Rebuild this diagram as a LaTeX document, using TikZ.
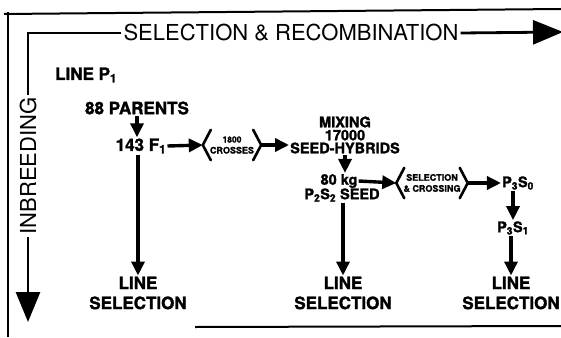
\documentclass[tikz,border=0pt]{standalone}
\usepackage{fontspec}
\setmainfont{TeX Gyre Heros}[BoldFeatures={FakeBold=1.6}]
\usetikzlibrary{arrows.meta}
\newcommand\lowidx[1]{\textsubscript{#1}}
\begin{document}
\begin{tikzpicture}[x=1pt,y=-1pt,
  head/.style={font=\fontsize{22}{22}\selectfont, inner sep=2pt},
  lbl/.style={font=\bfseries\fontsize{17}{20}\selectfont, inner sep=1pt, align=center},
  mid/.style={font=\bfseries\fontsize{14.5}{13}\selectfont, inner sep=1pt, align=center},
  tiny/.style={font=\bfseries\fontsize{9}{11}\selectfont, inner sep=1pt, align=center, minimum height=30pt},
  arr/.style={line width=3.4pt, -{Triangle[length=14pt,width=13pt]}},
  big/.style={line width=2.8pt, -{Triangle[length=30pt,width=24pt]}},
  brk/.style={line width=2.6pt, line join=round, line cap=round},
  frame/.style={line width=2pt}]
\useasboundingbox (0,0) rectangle (561,337);
\clip (0,0) rectangle (561,337);

% frame
\draw[frame] (4,14) -- (561,9);
\draw[frame] (8,12) -- (8,337);
\draw[frame] (195,327) -- (561,326);

% axes
\node[head] (sr) at (291,33) {SELECTION \& RECOMBINATION};
\node[head, rotate=90] (inb) at (28,166) {INBREEDING};
\coordinate (srend) at (563,32);
\coordinate (inbend) at (28,322);
\draw[line width=2.8pt] (inb.east) |- (sr.west);
\draw[big] (sr.east) -- (srend);
\draw[big] (inb.west) -- (inbend);

% line P1
\node[lbl, anchor=west] (lp) at (54,75) {LINE P\lowidx{1}};
\node[lbl] (par) at (137,108) {88 PARENTS};
\node[lbl] (f1) at (141,146) {143 F\lowidx{1}};
\node[lbl] (ls1) at (138,293) {LINE\\SELECTION};
\draw[arr] (par.south) -- (par.south |- f1.north);
\draw[arr] (f1.south -| ls1.north) -- (ls1.north);

% crosses
\node[tiny] (cr) at (232,145) {\fontsize{8.5}{11}\selectfont 1800\\CROSSES};
\draw[brk] ([xshift=2pt]cr.north west) -- ([xshift=-6pt]cr.west) -- ([xshift=2pt]cr.south west);
\draw[brk] ([xshift=-2pt]cr.north east) -- ([xshift=6pt]cr.east) -- ([xshift=-2pt]cr.south east);
\draw[arr] (f1.east) -- ([xshift=-6pt]cr.west);

% mixing
\node[mid] (mix) at (345,135) {MIXING\\17000\\SEED-HYBRIDS};
\draw[arr] ([xshift=6pt]cr.east) -- (mix.west |- cr.east);
\node[mid] (kga) at (339,181) {80 kg};
\node[mid] (kgb) at (342,195) {P\lowidx{2}S\lowidx{2} SEED};
\draw[arr] (mix.south) -- (mix.south |- kga.north);
\node[lbl] (ls2) at (343,293) {LINE\\SELECTION};
\draw[arr] (kgb.south -| ls2.north) -- (ls2.north);

% selection and crossing
\node[tiny] (sc) at (432,183) {SELECTION\\\& CROSSING};
\draw[brk] ([xshift=2pt]sc.north west) -- ([xshift=-6pt]sc.west) -- ([xshift=2pt]sc.south west);
\draw[brk] ([xshift=-2pt]sc.north east) -- ([xshift=6pt]sc.east) -- ([xshift=-2pt]sc.south east);
\draw[arr] (kga.east) -- ([xshift=-6pt]sc.west);
\node[mid] (p30) at (518,183) {P\lowidx{3}S\lowidx{0}};
\draw[arr] ([xshift=6pt]sc.east) -- (p30.west);
\node[mid] (p31) at (513,228) {P\lowidx{3}S\lowidx{1}};
\draw[arr] (p30.south -| p31.north) -- (p31.north);
\node[lbl] (ls3) at (511,293) {LINE\\SELECTION};
\draw[arr] (p31.south -| ls3.north) -- (ls3.north);
\end{tikzpicture}
\end{document}
